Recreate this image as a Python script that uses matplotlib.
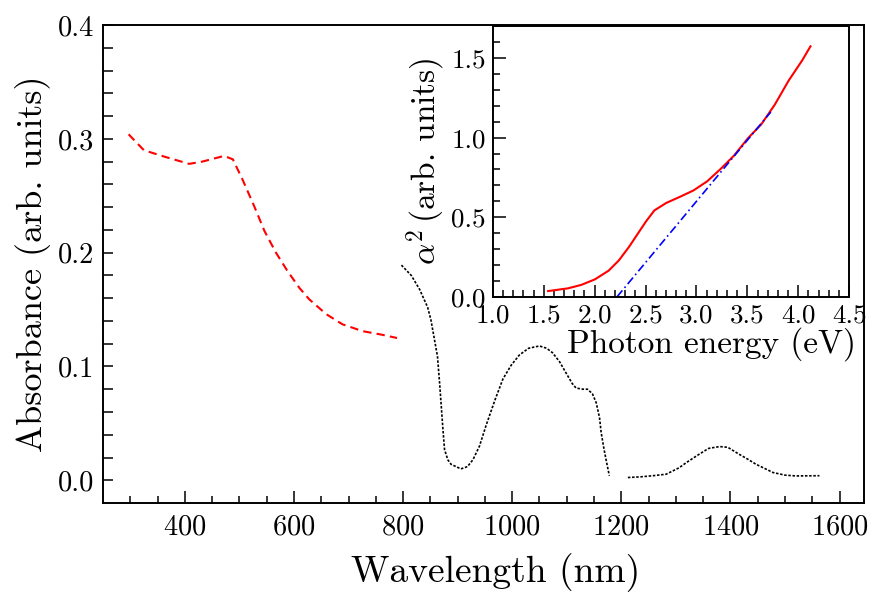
import numpy as np
import matplotlib
matplotlib.use('Agg')
import matplotlib.pyplot as plt

plt.rcParams['font.family'] = 'serif'
plt.rcParams['font.serif'] = ['cmr10']
plt.rcParams['mathtext.fontset'] = 'cm'
plt.rcParams['axes.formatter.use_mathtext'] = True

# main panel: absorbance spectrum (two instruments)
wl_vis = [297, 325, 365, 408, 432, 472, 488, 506, 527, 546, 567, 588, 610, 628,
          659, 689, 726, 760, 789]
abs_vis = [0.304, 0.290, 0.284, 0.278, 0.280, 0.285, 0.282, 0.264, 0.241, 0.219,
           0.200, 0.184, 0.169, 0.159, 0.146, 0.137, 0.131, 0.128, 0.125]

wl_nir1 = [797, 815, 830, 845, 851, 857, 863, 867, 870, 873, 876, 882, 888, 906,
           918, 928, 940, 952, 968, 983, 998, 1013, 1030, 1050, 1063, 1074, 1087,
           1099, 1110, 1117, 1130, 1138, 1147, 1154, 1160, 1163, 1168, 1172, 1178]
abs_nir1 = [0.189, 0.180, 0.168, 0.152, 0.141, 0.125, 0.109, 0.085, 0.065, 0.045,
            0.027, 0.018, 0.014, 0.010, 0.012, 0.018, 0.030, 0.048, 0.070, 0.089,
            0.101, 0.110, 0.116, 0.118, 0.116, 0.112, 0.104, 0.094, 0.085, 0.081,
            0.080, 0.080, 0.076, 0.068, 0.055, 0.042, 0.028, 0.018, 0.004]

wl_nir2 = [1212, 1235, 1258, 1282, 1306, 1319, 1343, 1360, 1380, 1395, 1416, 1430,
           1447, 1478, 1500, 1520, 1563]
abs_nir2 = [0.0024, 0.003, 0.004, 0.0053, 0.011, 0.0155, 0.023, 0.028, 0.0296,
            0.029, 0.0228, 0.019, 0.014, 0.0068, 0.0045, 0.0038, 0.004]

# inset: Tauc-type plot
energy = [1.543, 1.737, 1.870, 2.004, 2.137, 2.237, 2.337, 2.437, 2.504, 2.587,
          2.704, 2.837, 2.970, 3.104, 3.237, 3.370, 3.504, 3.637, 3.770, 3.904,
          4.037, 4.120]
alpha2 = [0.036, 0.053, 0.075, 0.110, 0.164, 0.228, 0.313, 0.409, 0.473, 0.543,
          0.590, 0.628, 0.668, 0.725, 0.803, 0.888, 0.995, 1.084, 1.208, 1.357,
          1.484, 1.574]
fit_e = [2.22, 3.73]
fit_a = [0.0, 1.161]

fig = plt.figure(figsize=(8.8, 5.96), dpi=100)
ax = fig.add_axes([0.117, 0.156, 0.865, 0.802])
ax.plot(wl_vis, abs_vis, color='red', lw=1.5, dashes=(4, 2.5))
ax.plot(wl_nir1, abs_nir1, color='black', lw=1.2, dashes=(1.5, 1.0))
ax.plot(wl_nir2, abs_nir2, color='black', lw=1.2, dashes=(1.5, 1.0))
ax.set_xlim(250, 1645)
ax.set_ylim(-0.02, 0.4)
ax.set_xticks([400, 600, 800, 1000, 1200, 1400, 1600])
ax.set_xticks(np.arange(300, 1650, 50), minor=True)
ax.set_yticks([0.0, 0.1, 0.2, 0.3, 0.4])
ax.set_yticks(np.arange(0, 0.41, 0.02), minor=True)
ax.set_yticklabels(['0.0', '0.1', '0.2', '0.3', '0.4'])
ax.tick_params(which='both', direction='in', top=False, right=False,
               labelsize=20.5, width=1.1)
ax.tick_params(axis='x', which='major', length=9, pad=8)
ax.tick_params(axis='x', which='minor', length=5)
ax.tick_params(axis='y', which='both', length=7, pad=6)
ax.set_xlabel('Wavelength (nm)', fontsize=27, labelpad=9)
ax.xaxis.label.set_x(0.516)
ax.set_ylabel('Absorbance (arb. units)', fontsize=26, labelpad=5)
for s in ax.spines.values():
    s.set_linewidth(1.4)

ins = fig.add_axes([0.560, 0.502, 0.405, 0.454])
ins.plot(energy, alpha2, color='red', lw=1.5)
ins.plot(fit_e, fit_a, color='blue', lw=1.2, dashes=(5, 2, 1, 2))
ins.set_xlim(1.0, 4.5)
ins.set_ylim(0, 1.7)
ins.set_xticks(np.arange(1.0, 4.51, 0.5))
ins.set_xticklabels(['1.0', '1.5', '2.0', '2.5', '3.0', '3.5', '4.0', '4.5'])
ins.set_xticks(np.arange(1.0, 4.51, 0.1), minor=True)
ins.set_yticks([0.0, 0.5, 1.0, 1.5])
ins.set_yticklabels(['0.0', '0.5', '1.0', '1.5'])
ins.set_yticks(np.arange(0, 1.71, 0.1), minor=True)
ins.tick_params(which='both', direction='in', top=False, right=False,
                labelsize=19.5, width=1.1)
ins.tick_params(which='major', length=9, pad=5)
ins.tick_params(which='minor', length=5)
ins.set_xlabel('Photon energy (eV)', fontsize=24, labelpad=0)
ins.xaxis.label.set_x(0.615)
ins.set_ylabel(r'$\alpha^{2}\,$(arb. units)', fontsize=24, labelpad=2)
for s in ins.spines.values():
    s.set_linewidth(1.4)

fig.savefig('out.png', dpi=100)
